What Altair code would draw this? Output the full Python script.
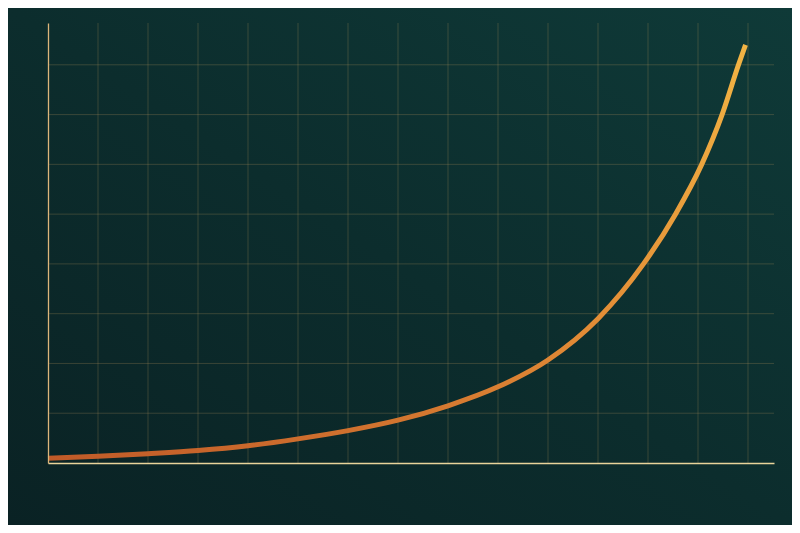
import altair as alt
import pandas as pd

# Curve values
x_vals = [0, 1, 2, 3, 4, 5, 6, 7, 8, 9, 10, 11, 11.91, 12.55, 13.07, 13.48, 13.81, 13.95]
y_vals = [0.094, 0.135, 0.187, 0.25, 0.345, 0.485, 0.65, 0.86, 1.15, 1.53, 2.07,
          2.9, 4.0, 5.0, 5.99, 6.995, 8.0, 8.40]

# Grid positions
x_grid = list(range(1, 15))
y_grid = list(range(1, 9))

X_DOMAIN = [0, 14.52]
Y_DOMAIN = [0, 8.84]

W, H = 726, 440
PAD = {"left": 40, "top": 15, "right": 18, "bottom": 62}

curve_df = pd.DataFrame({"x": x_vals, "y": y_vals})
xg_df = pd.DataFrame({"x": x_grid})
yg_df = pd.DataFrame({"y": y_grid})
one = pd.DataFrame({"a": [0]})

xscale = alt.Scale(domain=X_DOMAIN, nice=False, zero=False)
yscale = alt.Scale(domain=Y_DOMAIN, nice=False, zero=False)

x_axis = alt.Axis(title=None, labels=False, ticks=False, grid=False,
                  domainColor="#e9d49a", domainWidth=1.3, zindex=2)
y_axis = alt.Axis(title=None, labels=False, ticks=False, grid=False,
                  domainColor="#dcb57a", domainWidth=1.3, zindex=2)

bg = alt.Chart(one).mark_rect(
    fill=alt.Gradient(
        gradient="linear",
        stops=[
            alt.GradientStop(offset=0, color="#0f3a38"),
            alt.GradientStop(offset=0.5, color="#0c2d2d"),
            alt.GradientStop(offset=1, color="#0a2224"),
        ],
        x1=1, y1=0, x2=0, y2=1,
    ),
    clip=False,
).encode(
    x=alt.value(-PAD["left"]), x2=alt.value(W + PAD["right"]),
    y=alt.value(-PAD["top"]), y2=alt.value(H + PAD["bottom"]),
)

GRID_COLOR = "#b0905a"
vgrid = alt.Chart(xg_df).mark_rule(color=GRID_COLOR, opacity=0.28, strokeWidth=1).encode(
    x=alt.X("x:Q", scale=xscale, axis=x_axis)
)
hgrid = alt.Chart(yg_df).mark_rule(color=GRID_COLOR, opacity=0.28, strokeWidth=1).encode(
    y=alt.Y("y:Q", scale=yscale, axis=y_axis)
)

line = alt.Chart(curve_df).mark_line(
    interpolate="monotone",
    strokeWidth=5,
    strokeCap="butt",
    stroke=alt.Gradient(
        gradient="linear",
        stops=[
            alt.GradientStop(offset=0, color="#c05a28"),
            alt.GradientStop(offset=0.55, color="#e28c36"),
            alt.GradientStop(offset=1, color="#f2b444"),
        ],
        x1=0, y1=1, x2=1, y2=0,
    ),
).encode(
    x=alt.X("x:Q", scale=xscale, axis=x_axis),
    y=alt.Y("y:Q", scale=yscale, axis=y_axis),
    order=alt.Order("x:Q"),
)

chart = alt.layer(bg, vgrid, hgrid, line).properties(
    width=W, height=H,
    padding=PAD,
    autosize=alt.AutoSizeParams(type="none"),
    background="#0c2c2c",
).configure_view(stroke=None)

chart.save("out.html", embed_options={"renderer": "svg", "actions": False})
